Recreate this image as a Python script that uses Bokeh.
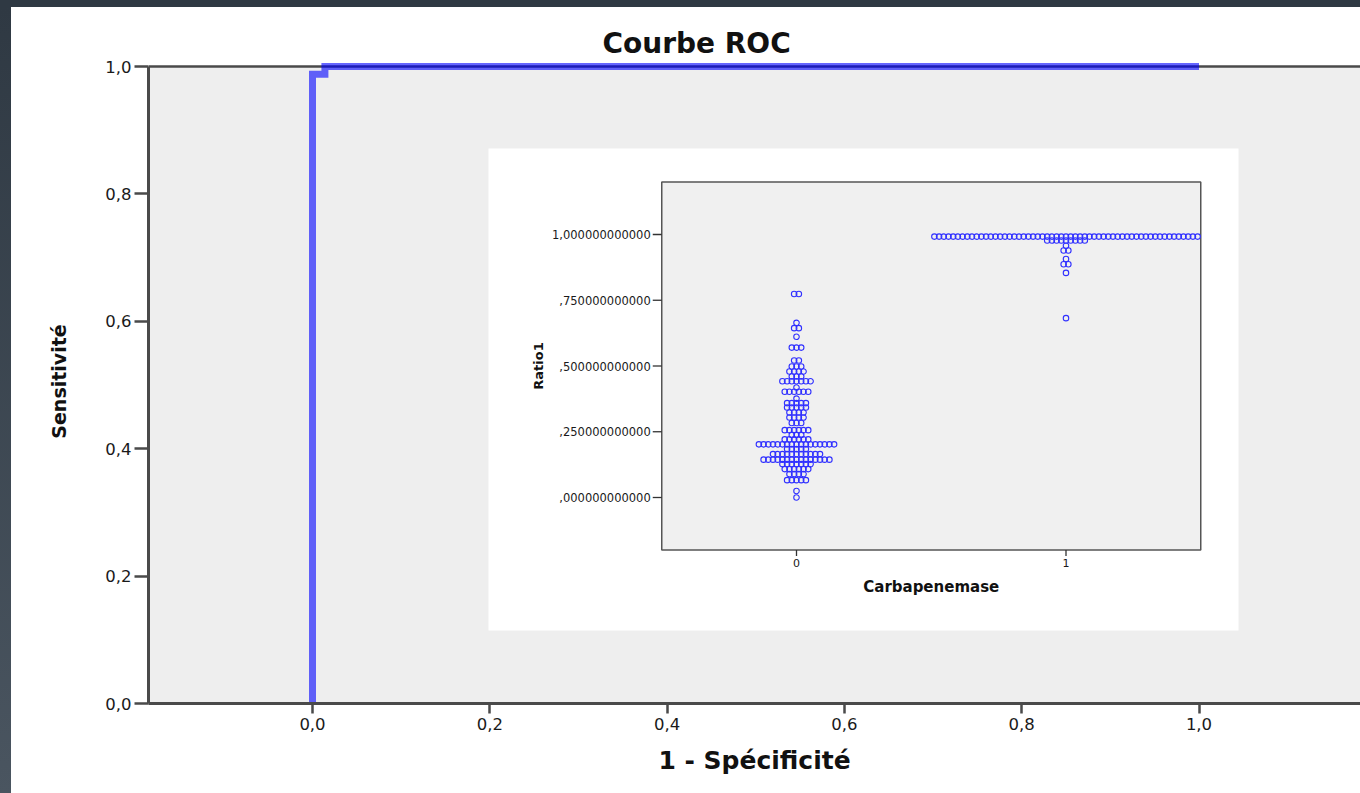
import math

from bokeh.core.properties import value
from bokeh.embed import file_html
from bokeh.layouts import column, row
from bokeh.models import CustomJSTickFormatter, FixedTicker, Range1d, Spacer
from bokeh.plotting import figure
from bokeh.resources import INLINE

# ---------------------------------------------------------------- data
# ROC curve (1 - specificity, sensitivity)
roc_fpr = [0.0, 0.0, 0.014, 0.014, 1.0]
roc_tpr = [0.0, 0.988, 0.988, 1.0, 1.0]
roc_ticks = [0.0, 0.2, 0.4, 0.6, 0.8, 1.0]

# Dot plot of Ratio1 by Carbapenemase group: value level and number of cases
ratio_levels_0 = [0.774, 0.664, 0.644, 0.611, 0.570, 0.521, 0.498, 0.479, 0.460,
                  0.442, 0.418, 0.402, 0.376, 0.359, 0.342, 0.323, 0.304, 0.283,
                  0.256, 0.238, 0.221, 0.202, 0.184, 0.165, 0.144, 0.127, 0.108,
                  0.089, 0.066, 0.025, 0.0]
ratio_counts_0 = [2, 1, 2, 1, 3, 2, 3, 4, 3,
                  7, 1, 6, 1, 5, 5, 4, 4, 3,
                  6, 3, 6, 17, 5, 11, 15, 7, 6,
                  4, 5, 1, 1]
ratio_levels_1 = [0.992, 0.977, 0.957, 0.939, 0.907, 0.887, 0.854, 0.682]
ratio_counts_1 = [57, 9, 1, 2, 1, 2, 1, 1]
groups = [0, 1]
ratio_ticks = [0.0, 0.25, 0.5, 0.75, 1.0]

# ---------------------------------------------------------------- layout (page pixels)
OFF_X, OFF_Y = 11, 7                 # dark page border
FIG_W, FIG_H = 1360 - OFF_X, 793 - OFF_Y
FRAME_L, FRAME_R, FRAME_T, FRAME_B = 148, 1360, 59, 703
X0_PX, X1_PX = 312.0, 1198.5         # x = 0 and x = 1
Y0_PX, Y1_PX = 703.0, 66.0           # y = 0 and y = 1
TITLE_LEFT = 602                     # left edge of the chart title

IN_L, IN_R, IN_T, IN_B = 661.25, 1200.25, 181.4, 549.6   # inset frame
IN_X = (-0.5, 1.5)
IN_Y = (-0.2, 1.2)
BOX_L, BOX_R, BOX_T, BOX_B = 488, 1238, 148, 630         # inset white card
DOT_STEP = 4.7                                            # px between stacked dots


def mx(px):
    return (px - X0_PX) / (X1_PX - X0_PX)


def my(py):
    return (Y0_PX - py) / (Y0_PX - Y1_PX)


KX = (IN_R - IN_L) / (IN_X[1] - IN_X[0])
KY = (IN_B - IN_T) / (IN_Y[1] - IN_Y[0])


def ix(px):
    return IN_X[0] + (px - IN_L) / KX


def iy(py):
    return IN_Y[0] + (IN_B - py) / KY


p = figure(
    width=FIG_W, height=FIG_H,
    x_range=Range1d(mx(FRAME_L), mx(FRAME_R)),
    y_range=Range1d(0.0, my(FRAME_T)),
    min_border_left=FRAME_L - OFF_X, min_border_right=0,
    min_border_top=FRAME_T - OFF_Y, min_border_bottom=OFF_Y + FIG_H - FRAME_B,
    output_backend="svg", toolbar_location=None,
)
p.extra_x_ranges = {"ix": Range1d(ix(FRAME_L), ix(FRAME_R))}
p.extra_y_ranges = {"iy": Range1d(iy(FRAME_B), iy(FRAME_T))}
p.grid.visible = False
p.outline_line_color = None
p.background_fill_color = "white"
p.border_fill_color = "white"

p.title.text = "Courbe ROC"
p.title.align = "left"
p.title.offset = TITLE_LEFT - FRAME_L
p.title.standoff = 0
p.title.text_font = "DejaVu Sans"
p.title.text_font_style = "bold"
p.title.text_font_size = "28px"
p.title.text_color = "#111111"

AX_COL = "#4a4a4a"
fmt = CustomJSTickFormatter(code="return tick.toFixed(1).replace('.', ',');")
for ax in (p.xaxis[0], p.yaxis[0]):
    ax.ticker = FixedTicker(ticks=roc_ticks)
    ax.formatter = fmt
    ax.minor_tick_line_color = None
    ax.major_tick_in = 0
    ax.major_tick_line_width = 2.5
    ax.major_tick_line_color = AX_COL
    ax.axis_line_width = 3
    ax.axis_line_color = AX_COL
    ax.major_label_text_font = "DejaVu Sans"
    ax.major_label_text_font_size = "16.5px"
    ax.major_label_text_color = "#1a1a1a"
    ax.axis_label_text_font = "DejaVu Sans"
    ax.axis_label_text_font_style = "bold"
    ax.axis_label_text_color = "#111111"

p.xaxis.axis_label = "1 - Spécificité"
p.xaxis.axis_label_text_font_size = "25px"
p.xaxis.major_tick_out = 10
p.xaxis.major_label_standoff = 4
p.xaxis.axis_label_standoff = 13

p.yaxis.axis_label = "Sensitivité"
p.yaxis.axis_label_text_font_size = "19px"
p.yaxis.major_tick_out = 14
p.yaxis.major_label_standoff = 3
p.yaxis.axis_label_standoff = 32
p.yaxis.bounds = (0, 1)

# ---------------------------------------------------------------- main panel
xr = p.x_range
p.quad(left=xr.start, right=xr.end, bottom=0, top=1,
       fill_color="#eeeeee", line_color=None)
p.line([xr.start, xr.end], [1, 1], line_color=AX_COL, line_width=2.5)
p.line(roc_fpr, roc_tpr, line_color="blue", line_alpha=0.6, line_width=7,
       line_join="miter")

# ---------------------------------------------------------------- inset dot plot
R = dict(x_range_name="ix", y_range_name="iy")
p.quad(left=ix(BOX_L), right=ix(BOX_R), bottom=iy(BOX_B), top=iy(BOX_T),
       fill_color="white", line_color=None, **R)
p.quad(left=IN_X[0], right=IN_X[1], bottom=IN_Y[0], top=IN_Y[1],
       fill_color="#f0f0f0", line_color="#555555", line_width=1.5, **R)

# y ticks and labels
p.segment(x0=[IN_X[0]] * len(ratio_ticks), x1=[ix(IN_L - 9)] * len(ratio_ticks),
          y0=ratio_ticks, y1=ratio_ticks, line_color="#333333", line_width=1.3, **R)
ratio_labels = [("%.12f" % t).lstrip("0").replace(".", ",") for t in ratio_ticks]
p.text(x=[ix(IN_L - 11)] * len(ratio_ticks), y=ratio_ticks, text=ratio_labels,
       text_align="right", text_baseline="middle",
       text_font=value("DejaVu Sans"), text_font_size="11.5px",
       text_color="#1a1a1a", **R)

# x ticks and labels
p.segment(x0=groups, x1=groups, y0=[IN_Y[0]] * 2, y1=[iy(IN_B + 6)] * 2,
          line_color="#333333", line_width=1.3, **R)
p.text(x=groups, y=[iy(IN_B + 9)] * 2, text=[str(g) for g in groups],
       text_align="center", text_baseline="top",
       text_font=value("DejaVu Sans"), text_font_size="11px",
       text_color="#1a1a1a", **R)

p.text(x=[sum(IN_X) / 2], y=[iy(586)], text=["Carbapenemase"],
       text_align="center", text_baseline="middle",
       text_font=value("DejaVu Sans"), text_font_style="bold",
       text_font_size="15px", text_color="#111111", **R)
p.text(x=[ix(538)], y=[sum(IN_Y) / 2], text=["Ratio1"], angle=math.pi / 2,
       text_align="center", text_baseline="middle",
       text_font=value("DejaVu Sans"), text_font_style="bold",
       text_font_size="13px", text_color="#111111", **R)

# stacked dots, centred on each group
dot_x, dot_y = [], []
step = DOT_STEP / KX
for g, levels, counts in ((0, ratio_levels_0, ratio_counts_0),
                          (1, ratio_levels_1, ratio_counts_1)):
    for lv, n in zip(levels, counts):
        for i in range(n):
            dot_x.append(g + (i - (n - 1) / 2) * step)
            dot_y.append(lv)
p.scatter(dot_x, dot_y, marker="circle", size=5.5, fill_color=None,
          line_color="#3030ff", line_width=1.1, **R)

# ---------------------------------------------------------------- page
top_strip = Spacer(width=1360, height=OFF_Y, styles={"background-color": "#2f3943"})
left_strip = Spacer(width=OFF_X, height=FIG_H,
                    styles={"background": "linear-gradient(#2f3943, #4a5560)"})
page = column(top_strip, row(left_strip, p, spacing=0), spacing=0)

open("out.html", "w").write(file_html(page, INLINE))
